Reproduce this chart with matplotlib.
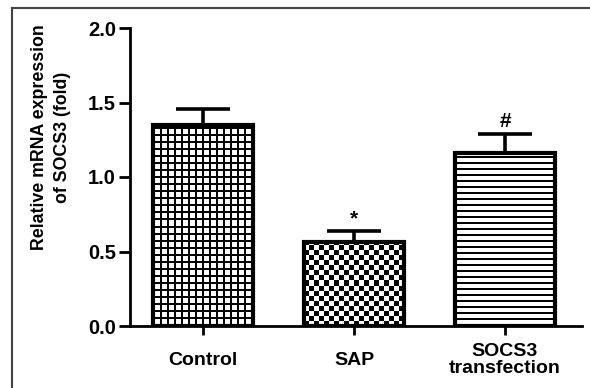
import numpy as np
import matplotlib
matplotlib.use('Agg')
import matplotlib.pyplot as plt
from matplotlib.lines import Line2D

# Data
groups = ['Control', 'SAP', 'SOCS3\ntransfection']
means = [1.35, 0.565, 1.16]
errors = [0.105, 0.07, 0.13]
marks = ['', '*', '#']
textures = ['grid', 'checker', 'hlines']

plt.rcParams['font.family'] = ['Liberation Sans', 'DejaVu Sans']
plt.rcParams['font.weight'] = 'bold'


# Build a small black/white texture array of the given pixel size
def make_texture(kind, h, w):
  i, j = np.mgrid[0:h, 0:w]
  if kind == 'grid':
    black = (i % 7 < 2) | (j % 7 < 2)
  elif kind == 'checker':
    black = ((i // 5) + (j // 5)) % 2 == 0
  else:
    black = (i % 6 < 2)
  return np.where(black, 0.0, 1.0)


fig = plt.figure(figsize=(5.9, 3.88), dpi=100)
ax = fig.add_axes([130/590, 1-326/388, (582-130)/590, (326-28)/388])

x = np.arange(len(groups))
bars = ax.bar(x, means, width=0.66, facecolor='none', edgecolor='black',
              linewidth=3, zorder=3)
ax.errorbar(x, means, yerr=[np.zeros(len(means)), errors], fmt='none',
            ecolor='black', elinewidth=2.6, capsize=19.5, capthick=2.6, zorder=2)

ax.set_xlim(-0.483, 2.51)
ax.set_ylim(0, 2.0)

# Fill each bar with its texture, clipped to the bar shape
for bar, kind in zip(bars, textures):
  x0, y0 = bar.get_x(), bar.get_y()
  x1, y1 = x0 + bar.get_width(), y0 + bar.get_height()
  (px0, py0), (px1, py1) = ax.transData.transform([(x0, y0), (x1, y1)])
  tex = make_texture(kind, int(round(py1 - py0)), int(round(px1 - px0)))
  im = ax.imshow(tex, cmap='gray', vmin=0, vmax=1, extent=(x0, x1, y0, y1),
                 origin='lower', interpolation='nearest', aspect='auto', zorder=2.5)
  im.set_clip_path(bar)

ax.set_xlim(-0.483, 2.51)
ax.set_ylim(0, 2.0)

# Significance marks above the error bars
for xi, m, e, s in zip(x, means, errors, marks):
  if s:
    ax.annotate(s, xy=(xi, m + e), xytext=(0, 2), textcoords='offset points',
                ha='center', va='bottom', fontsize=15, fontweight='bold')

ax.spines['top'].set_visible(False)
ax.spines['right'].set_visible(False)
ax.spines['left'].set_linewidth(2)
ax.spines['bottom'].set_linewidth(2)

ax.set_yticks([0, 0.5, 1.0, 1.5, 2.0])
ax.set_yticklabels(['0.0', '0.5', '1.0', '1.5', '2.0'])
ax.set_xticks(x)
ax.set_xticklabels(groups, linespacing=0.95)
ax.tick_params(axis='y', direction='out', length=8, width=2, labelsize=14.5, pad=2)
ax.tick_params(axis='x', direction='out', length=6.5, width=2, labelsize=14, pad=18)
for lbl in ax.get_xticklabels():
  lbl.set_verticalalignment('center')
  lbl.set_fontweight('bold')
for lbl in ax.get_yticklabels():
  lbl.set_fontweight('bold')

fig.text(51/590, 1-137/388, 'Relative mRNA expression\nof SOCS3 (fold)',
         rotation=90, ha='center', va='center', fontsize=12.8,
         fontweight='bold', linespacing=1.5)

# Thin frame around the picture (top and left only, as cropped)
fig.add_artist(Line2D([12/590, 1], [1-8/388, 1-8/388], transform=fig.transFigure,
                      color='#444444', linewidth=1.5))
fig.add_artist(Line2D([12/590, 12/590], [0, 1-8/388], transform=fig.transFigure,
                      color='#444444', linewidth=1.5))

fig.savefig('out.png', dpi=100)
